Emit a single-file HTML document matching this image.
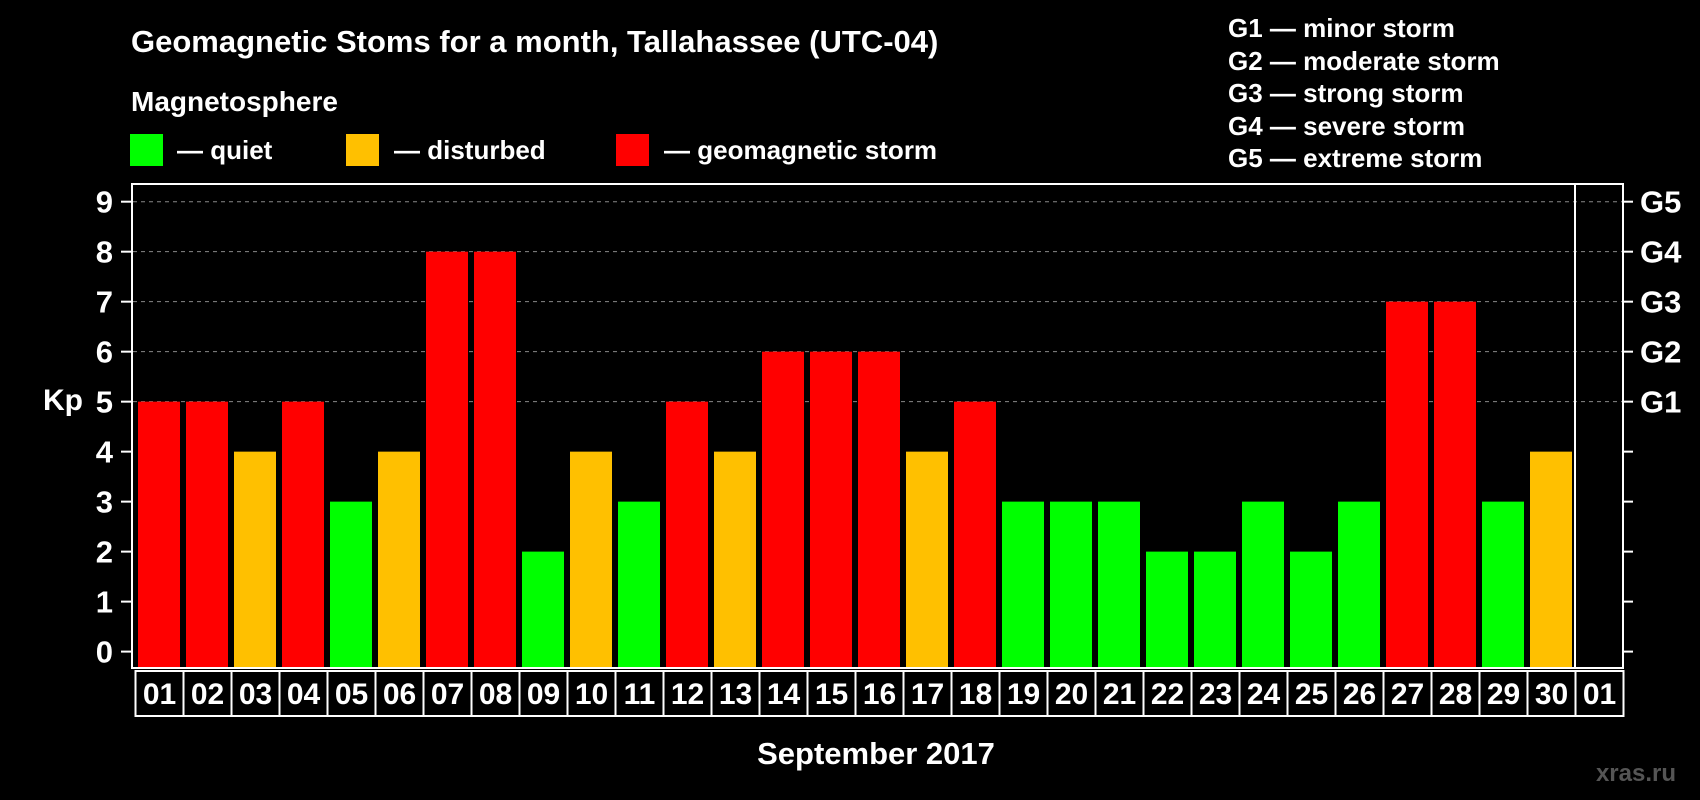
<!DOCTYPE html>
<html><head><meta charset="utf-8"><style>
html,body{margin:0;padding:0;background:#000;}
svg{display:block;font-family:"Liberation Sans",sans-serif;font-weight:bold;}
</style></head><body>
<svg id="chart" width="1700" height="800" viewBox="0 0 1700 800">
<rect width="1700" height="800" fill="#000"/>
<text x="131" y="52" fill="#fff" font-size="31">Geomagnetic Stoms for a month, Tallahassee (UTC-04)</text>
<text x="131" y="111" fill="#fff" font-size="28">Magnetosphere</text>
<g><rect x="130" y="134" width="33" height="32" fill="#00ff00"/><text x="177" y="159" fill="#fff" font-size="26">— quiet</text></g>
<g><rect x="346" y="134" width="33" height="32" fill="#ffc000"/><text x="394" y="159" fill="#fff" font-size="26">— disturbed</text></g>
<g><rect x="616" y="134" width="33" height="32" fill="#ff0000"/><text x="664" y="159" fill="#fff" font-size="26">— geomagnetic storm</text></g>
<g fill="#fff" font-size="26">
<text x="1228" y="37">G1 — minor storm</text>
<text x="1228" y="70">G2 — moderate storm</text>
<text x="1228" y="102">G3 — strong storm</text>
<text x="1228" y="135">G4 — severe storm</text>
<text x="1228" y="167">G5 — extreme storm</text>
</g>
<text x="43" y="410" fill="#fff" font-size="30">Kp</text>
<text x="876" y="764" fill="#fff" font-size="31" text-anchor="middle">September 2017</text>
<text x="1676" y="781" fill="#555" font-size="24" text-anchor="end">xras.ru</text>
<g id="grid"></g><g id="bars"></g><g id="axes"></g>
</svg>
<script>
const days=["01","02","03","04","05","06","07","08","09","10","11","12","13","14","15","16","17","18","19","20","21","22","23","24","25","26","27","28","29","30","01"];
const kpValues=[5,5,4,5,3,4,8,8,2,4,3,5,4,6,6,6,4,5,3,3,3,2,2,3,2,3,7,7,3,4];
const yTicks=[0,1,2,3,4,5,6,7,8,9];
const gLabels=["G1","G2","G3","G4","G5"];
const NS="http://www.w3.org/2000/svg";
const x0=135.5,slot=48,yZero=651.6,unit=49.99;
const X=i=>x0+i*slot;
const Y=v=>yZero-v*unit;
function mk(t,a,p){const e=document.createElementNS(NS,t);for(const k in a)e.setAttribute(k,a[k]);p.appendChild(e);return e;}
const grid=document.getElementById('grid'),bars=document.getElementById('bars'),axes=document.getElementById('axes');
yTicks.forEach(v=>{
 if(v>=5){const l=mk('line',{x1:133,x2:1623,y1:Y(v),y2:Y(v),stroke:'#888','stroke-dasharray':'4,4','stroke-width':1},grid);
 
 }
 const t=mk('line',{x1:121,x2:131,y1:Y(v),y2:Y(v),stroke:'#fff','stroke-width':2},axes);
 
 
 const t2=mk('line',{x1:1624,x2:1633,y1:Y(v),y2:Y(v),stroke:'#fff','stroke-width':2},axes);
 
 
 const lb=mk('text',{x:113,y:Y(v)+11,fill:'#fff','font-size':31,'text-anchor':'end'},axes);lb.textContent=v;
 
 
});
gLabels.forEach((g,i)=>{const t=mk('text',{x:1640,y:Y(5+i)+11,fill:'#fff','font-size':31},axes);t.textContent=g;
 
 });
kpValues.forEach((v,i)=>{
 const c=v>=5?'#ff0000':(v==4?'#ffc000':'#00ff00');
 const r=mk('rect',{x:X(i)+2.5,y:Y(v),width:42,height:668-Y(v),fill:c},bars);
 
 
});
const fr=mk('rect',{x:132,y:184,width:1491,height:484,fill:'none',stroke:'#fff','stroke-width':2},axes);


const dv=mk('line',{x1:1575,x2:1575,y1:184,y2:668,stroke:'#fff','stroke-width':2},axes);


days.forEach((d,i)=>{
 const b=mk('rect',{x:X(i),y:671,width:slot,height:45,fill:'none',stroke:'#fff','stroke-width':2},axes);
 
 
 const t=mk('text',{x:X(i)+slot/2,y:704,fill:'#fff','font-size':30,'text-anchor':'middle'},axes);t.textContent=d;
 
 
});
</script>
</body></html>
